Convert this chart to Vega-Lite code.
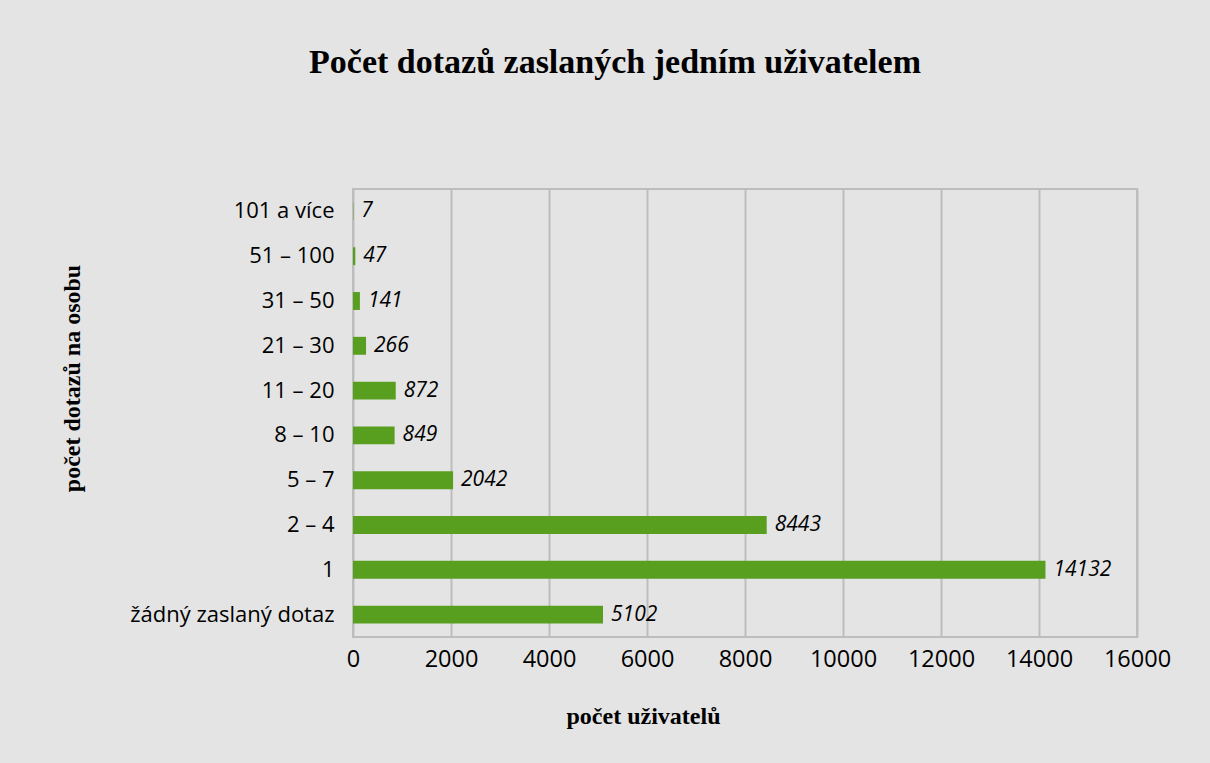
{
  "$schema": "https://vega.github.io/schema/vega-lite/v6.json",
  "autosize": {"type": "none"},
  "width": 784,
  "height": 448,
  "padding": {"left": 353, "top": 189, "right": 73, "bottom": 126},
  "background": "#e4e4e4",
  "data": {
    "values": [
      {"kategorie": "101 a více", "pocet": 7},
      {"kategorie": "51 – 100", "pocet": 47},
      {"kategorie": "31 – 50", "pocet": 141},
      {"kategorie": "21 – 30", "pocet": 266},
      {"kategorie": "11 – 20", "pocet": 872},
      {"kategorie": "8 – 10", "pocet": 849},
      {"kategorie": "5 – 7", "pocet": 2042},
      {"kategorie": "2 – 4", "pocet": 8443},
      {"kategorie": "1", "pocet": 14132},
      {"kategorie": "žádný zaslaný dotaz", "pocet": 5102}
    ]
  },
  "title": {
    "text": "Počet dotazů zaslaných jedním uživatelem",
    "font": "Liberation Serif",
    "fontSize": 34,
    "fontWeight": "bold",
    "color": "#000000",
    "anchor": "middle",
    "dx": -130,
    "baseline": "alphabetic",
    "offset": 82
  },
  "encoding": {
    "y": {
      "field": "kategorie",
      "type": "nominal",
      "sort": null,
      "scale": {"paddingInner": 0.6, "paddingOuter": 0.3},
      "axis": {
        "title": "počet dotazů na osobu",
        "titleFont": "Liberation Serif",
        "titleFontSize": 24,
        "titleFontWeight": "bold",
        "titleColor": "#000000",
        "titleAngle": -90,
        "titleX": -281,
        "titleY": 189,
        "titleAlign": "center",
        "titleBaseline": "middle",
        "labelFont": "Open Sans",
        "labelFontSize": 22,
        "labelColor": "#000000",
        "labelPadding": 19,
        "labelLimit": 320,
        "ticks": false,
        "domain": false
      }
    }
  },
  "layer": [
    {
      "mark": {"type": "bar", "color": "#589f1f"},
      "encoding": {
        "x": {
          "field": "pocet",
          "type": "quantitative",
          "scale": {"domain": [0, 16000], "nice": false},
          "axis": {
            "values": [0, 2000, 4000, 6000, 8000, 10000, 12000, 14000, 16000],
            "format": "d",
            "title": "počet uživatelů",
            "titleFont": "Liberation Serif",
            "titleFontSize": 24,
            "titleFontWeight": "bold",
            "titleColor": "#000000",
            "titleX": 290,
            "titleY": 79,
            "titleAlign": "center",
            "titleBaseline": "middle",
            "labelFont": "Open Sans",
            "labelFontSize": 23.5,
            "labelColor": "#000000",
            "labelPadding": 10,
            "labelFlush": false,
            "ticks": false,
            "domain": false,
            "grid": true,
            "gridColor": "#bdbdbd",
            "gridWidth": 2
          }
        }
      }
    },
    {
      "mark": {
        "type": "text",
        "align": "left",
        "baseline": "middle",
        "dx": 8,
        "font": "Open Sans",
        "fontSize": 21,
        "fontStyle": "italic",
        "color": "#000000"
      },
      "encoding": {
        "x": {"field": "pocet", "type": "quantitative"},
        "text": {"field": "pocet", "type": "quantitative", "format": "d"}
      }
    }
  ],
  "config": {
    "view": {"stroke": "#bdbdbd", "strokeWidth": 2}
  }
}
